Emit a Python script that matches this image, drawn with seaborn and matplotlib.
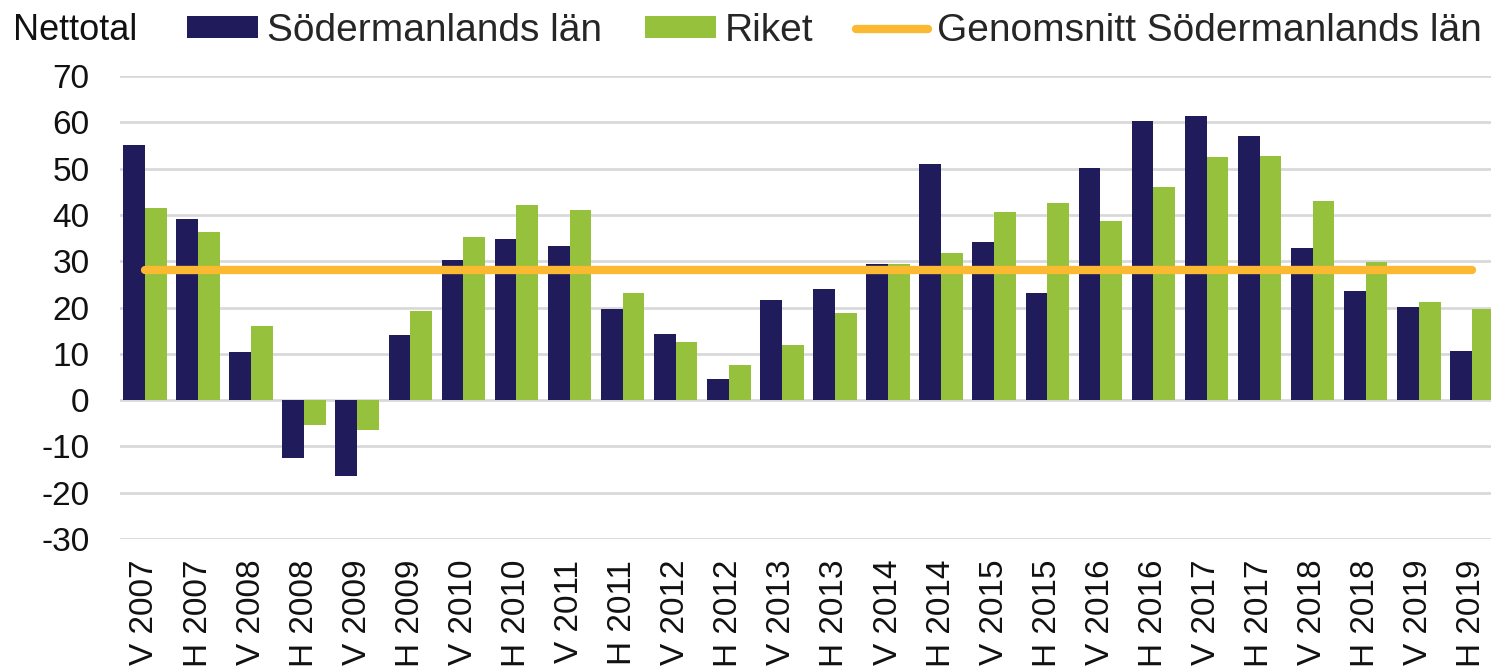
import matplotlib
matplotlib.use("Agg")
import matplotlib.pyplot as plt
from matplotlib.patches import Patch
from matplotlib.lines import Line2D
import seaborn as sns
import pandas as pd

# ---- data ----
categories = ["V 2007", "H 2007", "V 2008", "H 2008", "V 2009", "H 2009",
              "V 2010", "H 2010", "V 2011", "H 2011", "V 2012", "H 2012",
              "V 2013", "H 2013", "V 2014", "H 2014", "V 2015", "H 2015",
              "V 2016", "H 2016", "V 2017", "H 2017", "V 2018", "H 2018",
              "V 2019", "H 2019"]
sodermanland = [55.0, 39.1, 10.3, -12.4, -16.3, 14.1,
                30.2, 34.8, 33.3, 19.7, 14.2, 4.5,
                21.6, 24.0, 29.4, 50.9, 34.1, 23.2,
                50.1, 60.2, 61.3, 57.1, 32.9, 23.6,
                20.1, 10.7]
riket = [41.5, 36.4, 16.1, -5.3, -6.4, 19.3,
         35.2, 42.2, 41.1, 23.2, 12.6, 7.6,
         11.9, 18.8, 29.4, 31.7, 40.7, 42.6,
         38.7, 46.1, 52.4, 52.7, 43.0, 29.8,
         21.2, 19.7]
genomsnitt = 28.0
series_names = ["Södermanlands län", "Riket", "Genomsnitt Södermanlands län"]
y_title = "Nettotal"
yticks = [-30, -20, -10, 0, 10, 20, 30, 40, 50, 60, 70]

# ---- style ----
dark = "#201C5C"
green = "#95C13D"
orange = "#FBB931"
grid_c = "#D9D9D9"

sns.set_theme(style="white")
plt.rcParams["font.family"] = ["Liberation Sans", "DejaVu Sans"]

df = pd.DataFrame({
    "Period": categories * 2,
    "Serie": [series_names[0]] * len(categories) + [series_names[1]] * len(categories),
    "Värde": sodermanland + riket,
})

fig = plt.figure(figsize=(14.91, 6.69), dpi=100)
ax = fig.add_axes([120 / 1491, 1 - 539 / 669, 1 - 120 / 1491, (539 - 76) / 669])

sns.barplot(data=df, x="Period", y="Värde", hue="Serie", order=categories,
            hue_order=series_names[:2],
            palette={series_names[0]: dark, series_names[1]: green},
            width=0.82, linewidth=0, saturation=1, legend=False, ax=ax,
            errorbar=None, zorder=2)

xs = list(range(len(categories)))
ax.plot([xs[0], xs[-1]], [genomsnitt, genomsnitt], color=orange, lw=6,
        solid_capstyle="round", zorder=3)

ax.set_ylim(-30, 70)
ax.set_xlim(-0.47, len(categories) - 1 + 0.36)
ax.set_yticks(yticks)
ax.set_yticklabels([str(t) for t in yticks], fontsize=24, color="#111111")
ax.set_xticks(xs)
ax.set_xticklabels(categories, rotation=90, fontsize=24, color="#111111",
                   ha="center", va="top")
ax.tick_params(axis="y", length=0, pad=22)
ax.tick_params(axis="x", length=0, pad=15)
ax.set_xlabel("")
ax.set_ylabel("")
ax.yaxis.grid(True, color=grid_c, lw=2, zorder=0)
ax.xaxis.grid(False)
ax.set_axisbelow(True)
for s in ax.spines.values():
    s.set_visible(False)

fig.text(13 / 1491, 1 - 30 / 669, y_title, fontsize=26, color="#111111",
         ha="left", va="center")

handles = [Patch(facecolor=dark, edgecolor="none"),
           Patch(facecolor=green, edgecolor="none"),
           Line2D([0], [0], color=orange, lw=6, solid_capstyle="round")]
fig.legend(handles, series_names, loc="center left",
           bbox_to_anchor=(187 / 1491, 1 - 31 / 669), ncol=3, frameon=False,
           fontsize=28, handlelength=1.83, handleheight=0.5, handletextpad=0.23,
           columnspacing=1.1, borderpad=0, borderaxespad=0)

fig.savefig("out.png", dpi=100)
